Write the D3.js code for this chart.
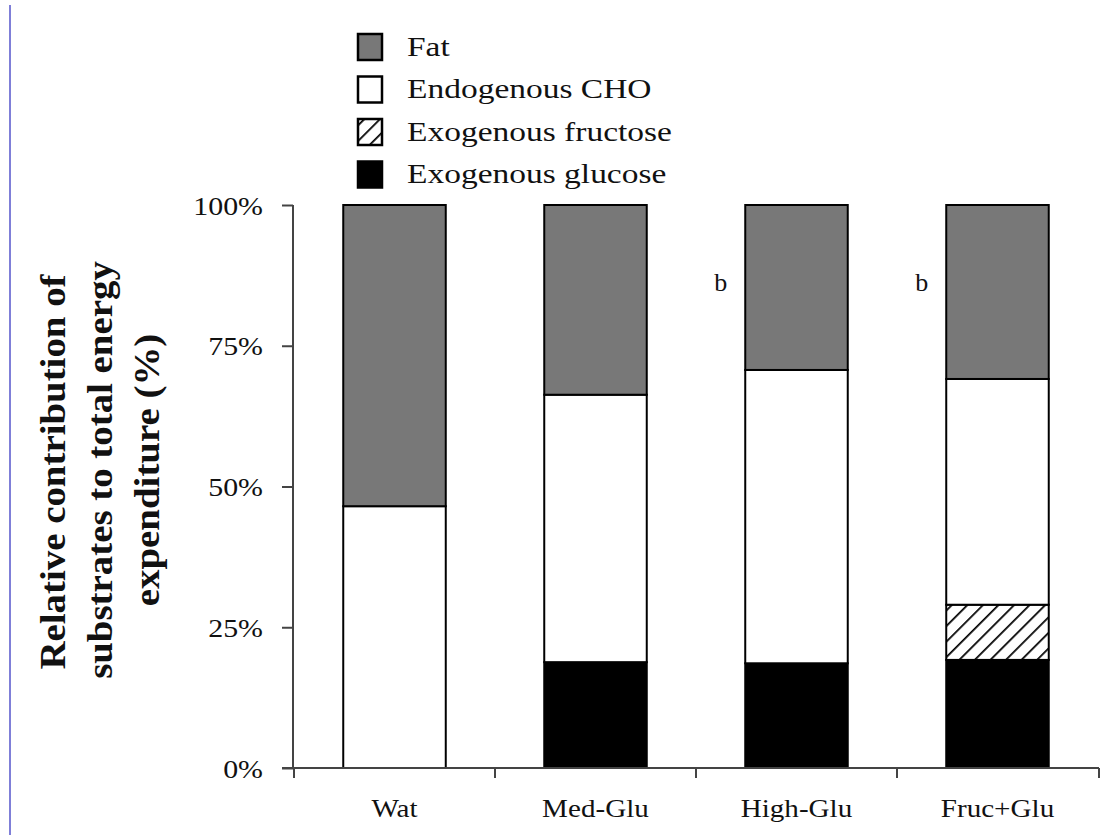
<!DOCTYPE html>
<html>
<head>
<meta charset="utf-8">
<script src="https://cdn.jsdelivr.net/npm/d3@7"></script>
<style>
  html, body { margin: 0; padding: 0; background: #fff; }
  svg { display: block; }
  svg text { font-family: "Liberation Serif", "Times New Roman", Times, "DejaVu Serif", "Noto Serif", serif; fill: #111; }
</style>
</head>
<body>
<svg id="chart" width="1100" height="839"></svg>
<script>
// ---- data ----
const categories = ["Wat", "Med-Glu", "High-Glu", "Fruc+Glu"];
const seriesNames = ["Exogenous glucose", "Exogenous fructose", "Endogenous CHO", "Fat"];
const exoGlucose   = [0,    18.8, 18.6, 19.2];
const exoFructose  = [0,    0,    0,    9.8];
const endoCHO      = [46.5, 47.5, 52.1, 40.1];
const fat          = [53.5, 33.7, 29.3, 30.9];
const yTickValues  = [0, 25, 50, 75, 100];
const yTickLabels  = ["0%", "25%", "50%", "75%", "100%"];
const annotations  = [{cat: "Med-Glu", text: "b"}, {cat: "High-Glu", text: "b"}];
const legendOrder  = ["Fat", "Endogenous CHO", "Exogenous fructose", "Exogenous glucose"];

const FONT = "'Liberation Serif', 'Times New Roman', Times, 'DejaVu Serif', serif";

const rows = categories.map((c, i) => ({
  cat: c,
  "Exogenous glucose": exoGlucose[i],
  "Exogenous fructose": exoFructose[i],
  "Endogenous CHO": endoCHO[i],
  "Fat": fat[i]
}));

const svg = d3.select("#chart");

// patterns
const defs = svg.append("defs");
const pat = defs.append("pattern")
  .attr("id", "hatch").attr("patternUnits", "userSpaceOnUse")
  .attr("width", 11).attr("height", 11)
  .attr("patternTransform", "rotate(45)");
pat.append("rect").attr("width", 11).attr("height", 11).attr("fill", "#fff");
pat.append("line").attr("x1", 0).attr("y1", 0).attr("x2", 0).attr("y2", 11)
  .attr("stroke", "#000").attr("stroke-width", 3.5);

const fills = {
  "Fat": "#787878",
  "Endogenous CHO": "#ffffff",
  "Exogenous fructose": "url(#hatch)",
  "Exogenous glucose": "#000000"
};

// left page rule
svg.append("line").attr("x1", 10).attr("x2", 10).attr("y1", 5).attr("y2", 835)
  .attr("stroke", "#7f7fd8").attr("stroke-width", 2);

// scales
const x0 = 293, x1 = 1099;
const y = d3.scaleLinear().domain([0, 100]).range([768, 205]);
const x = d3.scaleBand().domain(categories).range([x0, x1])
  .paddingInner(0.49).paddingOuter(0.25);

// stacked bars
const stack = d3.stack().keys(seriesNames);
const stacked = stack(rows);
const barG = svg.append("g");
stacked.forEach(layer => {
  barG.append("g").selectAll("rect")
    .data(layer.filter(d => d[1] - d[0] > 0))
    .join("rect")
    .attr("x", d => x(d.data.cat))
    .attr("width", x.bandwidth())
    .attr("y", d => y(d[1]))
    .attr("height", d => y(d[0]) - y(d[1]))
    .attr("fill", fills[layer.key])
    .attr("stroke", "#000")
    .attr("stroke-width", 2);
});

// text helper: horizontally stretched serif text like the reference
function stretched(sel, sx) {
  return sel.attr("transform", function() {
    const xx = +d3.select(this).attr("x") || 0;
    return `translate(${xx * (1 - sx)},0) scale(${sx},1)`;
  });
}

// y axis
const axisColor = "#444";
const yAxis = svg.append("g").attr("transform", `translate(${x0},0)`)
  .call(d3.axisLeft(y).tickValues(yTickValues)
    .tickFormat((d, i) => yTickLabels[i]).tickSize(11).tickPadding(30));
yAxis.attr("font-family", null);
yAxis.select(".domain").attr("stroke", axisColor).attr("stroke-width", 2)
  .attr("d", `M0,${y(100)}V${y(0)}`);
yAxis.selectAll(".tick line").attr("stroke", axisColor).attr("stroke-width", 2);
yAxis.selectAll(".tick text").style("font-size", "26px")
  .style("font-family", FONT).attr("fill", "#111")
  .attr("dy", "0.35em")
  .attr("transform", "scale(1.15,1)")
  .attr("x", -30 / 1.15);

// x axis
const step = x.step();
const gap = step - x.bandwidth();
const xTickPos = categories.map(c => x(c) - gap / 2).concat([x1]);
const xg = svg.append("g");
xg.append("line").attr("x1", x0 - 11).attr("x2", x1).attr("y1", y(0)).attr("y2", y(0))
  .attr("stroke", axisColor).attr("stroke-width", 2);
xg.selectAll(".xt").data(xTickPos).join("line")
  .attr("x1", d => d).attr("x2", d => d).attr("y1", y(0)).attr("y2", y(0) + 10)
  .attr("stroke", axisColor).attr("stroke-width", 2);
xg.selectAll(".xl").data(categories).join("text")
  .attr("x", d => x(d) + x.bandwidth() / 2).attr("y", 817)
  .attr("text-anchor", "middle").style("font-size", "26px").style("font-family", FONT)
  .text(d => d)
  .call(stretched, 1.12);

// annotations "b"
svg.selectAll(".ann").data(annotations).join("text")
  .attr("x", d => x(d.cat) + x.bandwidth() + 74)
  .attr("y", y(100) + 86)
  .attr("text-anchor", "middle").style("font-size", "26px").style("font-family", FONT)
  .text(d => d.text);

// y title
const titleLines = ["Relative contribution of", "substrates to total energy", "expenditure (%)"];
const titleCenters = [472, 470, 470];
titleLines.forEach((t, i) => {
  svg.append("g").attr("transform", `translate(0,${titleCenters[i]}) rotate(-90) scale(1.08,1)`)
    .append("text").attr("x", 0).attr("y", 65 + i * 47)
    .attr("text-anchor", "middle")
    .style("font-size", "36px").style("font-weight", "bold").style("font-family", FONT)
    .text(t);
});

// legend
const lg = svg.append("g");
legendOrder.forEach((k, i) => {
  const ly = 47 + i * 42.5;
  lg.append("rect").attr("x", 358).attr("y", ly - 13).attr("width", 24).attr("height", 26)
    .attr("fill", fills[k]).attr("stroke", "#000").attr("stroke-width", 2.5);
  lg.append("text").attr("x", 407).attr("y", ly + 9).style("font-size", "27px")
    .style("font-family", FONT).text(k).call(stretched, 1.24);
});
</script>
</body>
</html>
